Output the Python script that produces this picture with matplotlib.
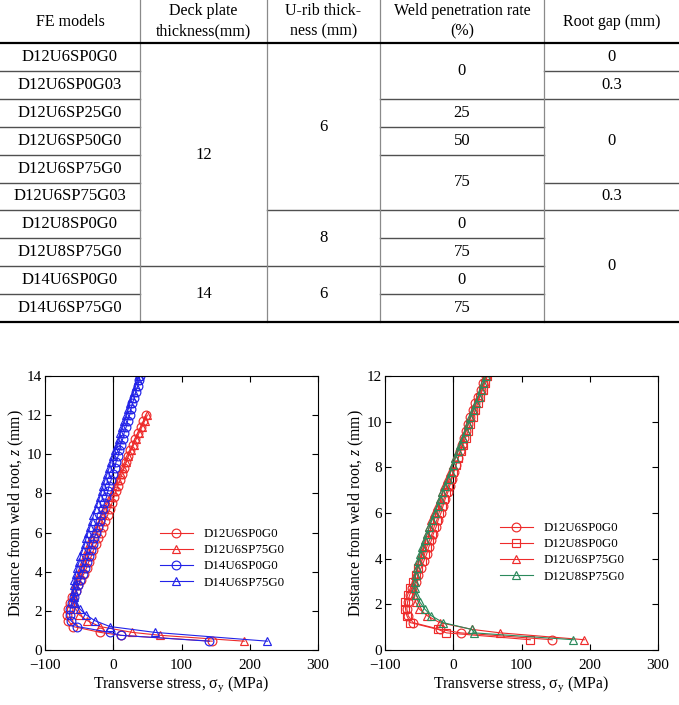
import matplotlib as mpl
mpl.use('Agg')
import matplotlib.pyplot as plt

plt.rcParams['font.family'] = ['Liberation Serif', 'DejaVu Serif']
plt.rcParams['mathtext.fontset'] = 'custom'
plt.rcParams['mathtext.rm'] = 'Liberation Serif'
plt.rcParams['mathtext.it'] = 'Liberation Serif:italic'

# ---------------- table data ----------------
headers = ['FE models', 'Deck plate\nthickness(mm)', 'U-rib thick-\nness (mm)',
           'Weld penetration rate\n(%)', 'Root gap (mm)']
fe_models = ['D12U6SP0G0', 'D12U6SP0G03', 'D12U6SP25G0', 'D12U6SP50G0', 'D12U6SP75G0',
             'D12U6SP75G03', 'D12U8SP0G0', 'D12U8SP75G0', 'D14U6SP0G0', 'D14U6SP75G0']
deck_plate = ['12', '12', '12', '12', '12', '12', '12', '12', '14', '14']
u_rib = ['6', '6', '6', '6', '6', '6', '8', '8', '6', '6']
weld_rate = ['0', '0', '25', '50', '75', '75', '0', '75', '0', '75']
root_gap = ['0', '0.3', '0', '0', '0', '0.3', '0', '0', '0', '0']

# ---------------- stress profiles ----------------
z12 = [0.45, 0.75, 0.9, 1.2, 1.5, 1.8, 2.1, 2.4, 2.7, 3.0, 3.3, 3.6, 3.9, 4.2, 4.5, 4.8,
       5.1, 5.4, 5.7, 6.0, 6.3, 6.6, 6.9, 7.2, 7.5, 7.8, 8.1, 8.4, 8.7, 9.0, 9.3, 9.6,
       9.9, 10.2, 10.5, 10.8, 11.1, 11.4, 11.7, 12.0]
z14 = [0.45, 0.75, 0.9, 1.2, 1.5, 1.8, 2.1, 2.4, 2.7, 3.0, 3.3, 3.6, 3.9, 4.2, 4.5, 4.8,
       5.1, 5.4, 5.7, 6.0, 6.3, 6.6, 6.9, 7.2, 7.5, 7.8, 8.1, 8.4, 8.7, 9.0, 9.3, 9.6,
       9.9, 10.2, 10.5, 10.8, 11.1, 11.4, 11.7, 12.0, 12.3, 12.6, 12.9, 13.2, 13.5, 13.8, 14.0]
z14_75 = [0.45, 0.9, 1.2, 1.5, 1.8, 2.1, 2.4, 2.7, 3.0, 3.3, 3.6, 3.9, 4.2, 4.5, 4.8,
          5.1, 5.4, 5.7, 6.0, 6.3, 6.6, 6.9, 7.2, 7.5, 7.8, 8.1, 8.4, 8.7, 9.0, 9.3, 9.6,
          9.9, 10.2, 10.5, 10.8, 11.1, 11.4, 11.7, 12.0, 12.3, 12.6, 12.9, 13.2, 13.5, 13.8, 14.0]

d12u6sp0g0 = [145, 11, -19, -59, -66, -68, -67, -64, -60, -55, -51, -47, -43, -39, -36, -32,
              -29, -25, -22, -18, -15, -12, -8, -5, -2, 1, 4, 7, 10, 13, 16, 19,
              22, 25, 29, 32, 36, 40, 44, 48]
d12u6sp75g0 = [192, 69, 28, -20, -38, -50, -55, -58, -59, -58, -56, -53, -50, -47, -44, -41,
               -38, -35, -32, -28, -24, -20, -16, -13, -9, -5, -1, 3, 7, 11, 15, 19,
               22, 26, 30, 34, 38, 42, 46, 50]
d14u6sp0g0 = [141, 11, -5, -53, -62, -64, -63, -61, -58, -54, -51, -48, -45, -42, -39, -36,
              -33, -30, -28, -25, -23, -20, -18, -15, -13, -10, -8, -6, -3, -1, 2, 4,
              7, 9, 11, 14, 16, 19, 21, 24, 26, 28, 31, 33, 36, 38, 39]
d14u6sp75g0 = [226, 61, -5, -27, -40, -49, -56, -57, -58, -58, -57, -55, -53, -50, -48,
               -45, -42, -40, -37, -34, -31, -29, -26, -23, -20, -17, -15, -12, -9, -6, -4,
               -1, 2, 5, 8, 10, 13, 16, 19, 22, 24, 27, 30, 33, 36, 38]
d12u8sp0g0 = [113, -10, -22, -63, -68, -70, -70, -67, -63, -59, -55, -51, -46, -42, -39, -35,
              -31, -28, -24, -21, -17, -14, -10, -7, -3, 0, 4, 7, 11, 14, 18, 22,
              25, 29, 32, 36, 39, 43, 46, 50]
d12u8sp75g0 = [176, 31, 27, -15, -32, -42, -49, -54, -56, -56, -55, -53, -51, -49, -46, -42,
               -38, -35, -31, -27, -23, -20, -16, -12, -8, -4, -1, 3, 7, 10, 14, 18,
               22, 25, 29, 33, 37, 40, 44, 48]

RED = '#ee2b2b'
BLUE = '#2323e8'
GREEN = '#2b8a5c'

W, H = 679, 705
fig = plt.figure(figsize=(W / 100, H / 100), dpi=100)

# ---------------- table ----------------
tab = fig.add_axes([0, 1 - 330 / H, 1, 330 / H])
tab.set_xlim(0, W)
tab.set_ylim(330, 0)
tab.axis('off')

col_x = [0, 140, 267, 380, 544, 679]
head_y = 43
row_h = 27.9
nrows = len(fe_models)


def spans(values):
    # merge consecutive equal cells like in the original table
    out = []
    start = 0
    for i in range(1, len(values) + 1):
        if i == len(values) or values[i] != values[start]:
            out.append((values[start], start, i - start))
            start = i
    return out


for j, h in enumerate(headers):
    cx = (col_x[j] + col_x[j + 1]) / 2
    tab.text(cx, head_y / 2, h, ha='center', va='center', fontsize=11.5, linespacing=1.35)

columns = [[(v, i, 1) for i, v in enumerate(fe_models)],
           spans(deck_plate), spans(u_rib), spans(weld_rate), spans(root_gap)]
for j, col in enumerate(columns):
    cx = (col_x[j] + col_x[j + 1]) / 2
    for text, start, n in col:
        tab.text(cx, head_y + row_h * (start + n / 2), text, ha='center', va='center',
                 fontsize=12)
        if start + n < nrows:
            yy = head_y + row_h * (start + n)
            tab.plot([col_x[j], col_x[j + 1]], [yy, yy], color='#505050', lw=1.0)

for xx in col_x[1:-1]:
    tab.plot([xx, xx], [0, head_y + row_h * nrows], color='#8a8a8a', lw=0.9)
tab.plot([0, W], [head_y, head_y], color='black', lw=1.6)
tab.plot([0, W], [head_y + row_h * nrows, head_y + row_h * nrows], color='black', lw=1.6)

# ---------------- plots ----------------
def style(ax, ymax):
    ax.set_xlim(-100, 300)
    ax.set_ylim(0, ymax)
    ax.set_xticks([-100, 0, 100, 200, 300])
    ax.set_yticks(range(0, ymax + 1, 2))
    ax.tick_params(direction='in', top=True, right=True, length=4, width=0.8,
                   labelsize=11)
    ax.tick_params(axis='x', pad=6.5)
    ax.tick_params(axis='y', pad=2)
    for s in ax.spines.values():
        s.set_linewidth(0.8)
    ax.axvline(0, color='black', lw=0.8, zorder=1)
    ax.set_xlabel(r'Transverse stress, $\mathregular{\sigma_y}$ (MPa)', fontsize=11.3, labelpad=2)
    ax.set_ylabel(r'Distance from weld root, $\it{z}$ (mm)', fontsize=11.3, labelpad=1)


mk = dict(mfc='none', ms=6.3, mew=0.85, lw=0.8)
leg = dict(loc='upper left', frameon=False, fontsize=9.3, handlelength=2.55,
           handletextpad=0.85, labelspacing=0.32, borderpad=0, borderaxespad=0)

ax1 = fig.add_axes([45 / W, 1 - 650 / H, 273 / W, 274 / H])
ax1.plot(d12u6sp0g0, z12, marker='o', color=RED, label='D12U6SP0G0', **mk)
ax1.plot(d12u6sp75g0, z12, marker='^', color=RED, label='D12U6SP75G0', **mk)
ax1.plot(d14u6sp0g0, z14, marker='o', color=BLUE, label='D14U6SP0G0', **mk)
ax1.plot(d14u6sp75g0, z14_75, marker='^', color=BLUE, label='D14U6SP75G0', **mk)
style(ax1, 14)
ax1.legend(bbox_to_anchor=(0.42, 0.445), **leg)

ax2 = fig.add_axes([385 / W, 1 - 650 / H, 273 / W, 274 / H])
ax2.plot(d12u6sp0g0, z12, marker='o', color=RED, label='D12U6SP0G0', **mk)
ax2.plot(d12u8sp0g0, z12, marker='s', color=RED, label='D12U8SP0G0', **mk)
ax2.plot(d12u6sp75g0, z12, marker='^', color=RED, label='D12U6SP75G0', **mk)
ax2.plot(d12u8sp75g0, z12, marker='^', color=GREEN, label='D12U8SP75G0', **mk)
style(ax2, 12)
ax2.legend(bbox_to_anchor=(0.42, 0.467), **leg)

fig.savefig('out.png', dpi=100)
